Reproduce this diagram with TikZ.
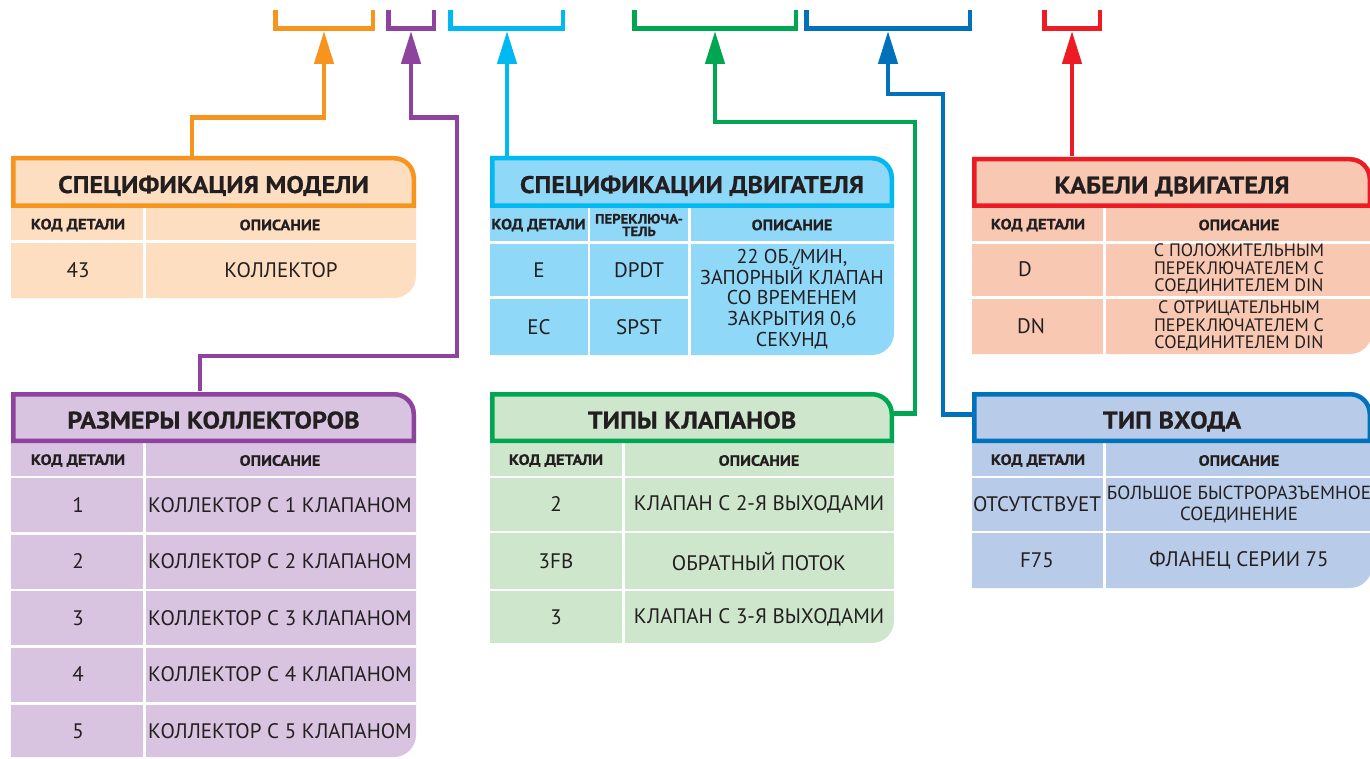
\documentclass[tikz,border=0pt]{standalone}
\usepackage{fontspec}
\setmainfont{PT Sans}
\newfontfamily\ttlfont{PT Sans}[FakeStretch=1.09,BoldFeatures={FakeBold=0.6}]
\usepackage{tikz}
\usetikzlibrary{arrows.meta,calc}
\definecolor{orng}{RGB}{247,148,30}
\definecolor{orngl}{RGB}{253,222,192}
\definecolor{purp}{RGB}{142,68,158}
\definecolor{purpl}{RGB}{216,196,224}
\definecolor{cyn}{RGB}{0,185,242}
\definecolor{cynl}{RGB}{143,216,248}
\definecolor{grn}{RGB}{0,166,81}
\definecolor{grnl}{RGB}{206,231,204}
\definecolor{blu}{RGB}{0,114,188}
\definecolor{blul}{RGB}{184,204,233}
\definecolor{rd}{RGB}{237,28,36}
\definecolor{rdl}{RGB}{249,200,178}
\definecolor{ink}{RGB}{35,31,32}

\begin{document}
\begin{tikzpicture}[x=1pt,y=-1pt,
    ttl/.style={text=ink,font=\fontsize{24}{26}\ttlfont\bfseries,minimum height=52pt,inner sep=0pt,text height=22pt,text depth=0pt},
    hd/.style={text=ink,font=\fontsize{15}{13}\ttlfont\bfseries,align=center,inner sep=0pt},
    cl/.style={text=ink,font=\fontsize{21}{21}\selectfont,align=center,inner sep=0pt},
    sep/.style={white,line width=2.5pt},
    frame/.style={line width=4.5pt},
    lnk/.style={line width=4.5pt,-{Triangle[length=33pt,width=19pt]}}]

        \useasboundingbox (0,0) rectangle (1370,759);

        % code brackets on top
        \foreach \c/\a/\b in {orng/275.25/372.75, purp/388.25/433.75, cyn/450.25/562.75,
                              grn/634.25/795.75, blu/806.25/969.75, rd/1044.25/1099.75}
            \draw[frame,\c] (\a,10) |- (\b,28.5) -- (\b,10);
        \foreach \n/\x in {bo/324, bp/411, bc/507, bg/715, bb/888, br/1072}
            \coordinate (\n) at (\x,31);

        % model
        \fill[orngl] (11,156) -- (394,156) arc[start angle=90,end angle=0,radius=22pt] -- (416,276) arc[start angle=0,end angle=-90,radius=22pt] -- (11,298) -- cycle;
        \draw[sep] (11,241.5) -- (416,241.5);
        \draw[sep] (144.5,208) -- (144.5,298);
        \draw[frame,orng] (13.25,205.75) -- (13.25,158.25) -- (394,158.25) arc[start angle=90,end angle=0,radius=19.75pt] -- (413.75,205.75) -- cycle;
        \node[ttl,minimum width=405pt] (mdl) at (213.5,182) {СПЕЦИФИКАЦИЯ МОДЕЛИ};
        \node[hd] (mdl-h1) at (78,225) {КОД ДЕТАЛИ};
        \node[hd] (mdl-h2) at (280,225) {ОПИСАНИЕ};
        \node[cl] (mdl-a) at (78,270.5) {43};
        \node[cl] (mdl-b) at (281,270.5) {КОЛЛЕКТОР};

        % manifold sizes
        \fill[purpl] (11,392) -- (394,392) arc[start angle=90,end angle=0,radius=22pt] -- (416,735) arc[start angle=0,end angle=-90,radius=22pt] -- (11,757) -- cycle;
        \foreach \y in {477,533.5,590,646.5,703.5}
            \draw[sep] (11,\y) -- (416,\y);
        \draw[sep] (144.5,443) -- (144.5,757);
        \draw[frame,purp] (13.25,440.75) -- (13.25,394.25) -- (394,394.25) arc[start angle=90,end angle=0,radius=19.75pt] -- (413.75,440.75) -- cycle;
        \node[ttl,minimum width=405pt] (sz) at (213.5,417.5) {РАЗМЕРЫ КОЛЛЕКТОРОВ};
        \node[hd] (sz-h1) at (78,460.5) {КОД ДЕТАЛИ};
        \node[hd] (sz-h2) at (280,460.5) {ОПИСАНИЕ};
        \foreach \i/\y in {1/505,2/561.5,3/618,4/674.5,5/731} {
            \node[cl] (sz-a\i) at (78,\y) {\i};
            \node[cl] (sz-b\i) at (280,\y) {КОЛЛЕКТОР С \i\ КЛАПАНОМ};
        }

        % motor specs
        \fill[cynl] (490,156) -- (872,156) arc[start angle=90,end angle=0,radius=22pt] -- (894,333) arc[start angle=0,end angle=-90,radius=22pt] -- (490,355) -- cycle;
        \draw[sep] (490,242.5) -- (894,242.5);
        \draw[sep] (490,297.5) -- (689.5,297.5);
        \draw[sep] (589,208) -- (589,355);
        \draw[sep] (689.5,208) -- (689.5,355);
        \draw[frame,cyn] (492.25,205.75) -- (492.25,158.25) -- (872,158.25) arc[start angle=90,end angle=0,radius=19.75pt] -- (891.75,205.75) -- cycle;
        \node[ttl,minimum width=404pt] (eng) at (692,182) {СПЕЦИФИКАЦИИ ДВИГАТЕЛЯ};
        \node[hd] (eng-h1) at (538.5,225) {КОД ДЕТАЛИ};
        \node[hd,font=\fontsize{13.5}{12.5}\ttlfont\bfseries] (eng-h2) at (639,225) {ПЕРЕКЛЮЧА-\\ТЕЛЬ};
        \node[hd] (eng-h3) at (792,225) {ОПИСАНИЕ};
        \node[cl] (eng-a1) at (539,270) {E};
        \node[cl] (eng-b1) at (639,270) {DPDT};
        \node[cl] (eng-a2) at (539,327) {EC};
        \node[cl] (eng-b2) at (639,327) {SPST};
        \node[cl,font=\fontsize{20}{20.8}\selectfont] (eng-c) at (792,299) {22 ОБ./МИН,\\ЗАПОРНЫЙ КЛАПАН\\СО ВРЕМЕНЕМ\\ЗАКРЫТИЯ 0,6\\СЕКУНД};

        % valve types
        \fill[grnl] (490,392) -- (872,392) arc[start angle=90,end angle=0,radius=22pt] -- (894,621) arc[start angle=0,end angle=-90,radius=22pt] -- (490,643) -- cycle;
        \foreach \y in {477,532,590}
            \draw[sep] (490,\y) -- (894,\y);
        \draw[sep] (623.5,443) -- (623.5,643);
        \draw[frame,grn] (492.25,440.75) -- (492.25,394.25) -- (872,394.25) arc[start angle=90,end angle=0,radius=19.75pt] -- (891.75,440.75) -- cycle;
        \node[ttl,minimum width=404pt] (vlv) at (692,417.5) {ТИПЫ КЛАПАНОВ};
        \node[hd] (vlv-h1) at (556,460.5) {КОД ДЕТАЛИ};
        \node[hd] (vlv-h2) at (759,460.5) {ОПИСАНИЕ};
        \node[cl] (vlv-a1) at (556,504.5) {2};
        \node[cl] (vlv-b1) at (759,504.5) {КЛАПАН С 2-Я ВЫХОДАМИ};
        \node[cl] (vlv-a2) at (556,561) {3FB};
        \node[cl] (vlv-b2) at (759,561) {ОБРАТНЫЙ ПОТОК};
        \node[cl] (vlv-a3) at (556,617) {3};
        \node[cl] (vlv-b3) at (759,617) {КЛАПАН С 3-Я ВЫХОДАМИ};

        % inlet type
        \fill[blul] (972,392) -- (1350,392) arc[start angle=90,end angle=0,radius=22pt] -- (1372,566) arc[start angle=0,end angle=-90,radius=22pt] -- (972,588) -- cycle;
        \foreach \y in {477,532}
            \draw[sep] (972,\y) -- (1372,\y);
        \draw[sep] (1104.5,443) -- (1104.5,588);
        \draw[frame,blu] (974.25,440.75) -- (974.25,394.25) -- (1350,394.25) arc[start angle=90,end angle=0,radius=19.75pt] -- (1369.75,440.75) -- cycle;
        \node[ttl,minimum width=400pt] (inl) at (1172,417.5) {ТИП ВХОДА};
        \node[hd] (inl-h1) at (1038,460.5) {КОД ДЕТАЛИ};
        \node[hd] (inl-h2) at (1239,460.5) {ОПИСАНИЕ};
        \node[cl] (inl-a1) at (1037,504) {ОТСУТСТВУЕТ};
        \node[cl,font=\fontsize{19}{21}\selectfont] (inl-b1) at (1239,504) {БОЛЬШОЕ БЫСТРОРАЗЪЕМНОЕ\\СОЕДИНЕНИЕ};
        \node[cl] (inl-a2) at (1037,560.5) {F75};
        \node[cl] (inl-b2) at (1239,560.5) {ФЛАНЕЦ СЕРИИ 75};

        % motor cables
        \fill[rdl] (972,157) -- (1350,157) arc[start angle=90,end angle=0,radius=22pt] -- (1372,332) arc[start angle=0,end angle=-90,radius=22pt] -- (972,354) -- cycle;
        \draw[sep] (972,242.5) -- (1372,242.5);
        \draw[sep] (972,297.5) -- (1372,297.5);
        \draw[sep] (1104.5,208) -- (1104.5,354);
        \draw[frame,rd] (974.25,205.75) -- (974.25,159.25) -- (1350,159.25) arc[start angle=90,end angle=0,radius=19.75pt] -- (1369.75,205.75) -- cycle;
        \node[ttl,minimum width=400pt] (cab) at (1172,182.5) {КАБЕЛИ ДВИГАТЕЛЯ};
        \node[hd] (cab-h1) at (1038,225) {КОД ДЕТАЛИ};
        \node[hd] (cab-h2) at (1239,225) {ОПИСАНИЕ};
        \node[cl] (cab-a1) at (1025,269) {D};
        \node[cl,font=\fontsize{18}{17.5}\selectfont] (cab-b1) at (1239,269) {С ПОЛОЖИТЕЛЬНЫМ\\ПЕРЕКЛЮЧАТЕЛЕМ С\\СОЕДИНИТЕЛЕМ DIN};
        \node[cl] (cab-a2) at (1031,326) {DN};
        \node[cl,font=\fontsize{18}{17.5}\selectfont] (cab-b2) at (1239,326) {С ОТРИЦАТЕЛЬНЫМ\\ПЕРЕКЛЮЧАТЕЛЕМ С\\СОЕДИНИТЕЛЕМ DIN};

        % links to the code
        \draw[lnk,orng] ([xshift=-21.5pt]mdl.north) |- (324,117.5) -- (bo);
        \draw[lnk,purp] ([xshift=-13.5pt]sz.north) |- (457,356) |- (411,117.5) -- (bp);
        \draw[lnk,cyn] (bc |- eng.north) -- (bc);
        \draw[lnk,grn] ([yshift=4pt]vlv.east) -| (915,122) -| (bg);
        \draw[lnk,blu] ([yshift=3pt]inl.west) -| (943,94) -| (bb);
        \draw[lnk,rd] (br |- cab.north) -- (br);
      \end{tikzpicture}
\end{document}
